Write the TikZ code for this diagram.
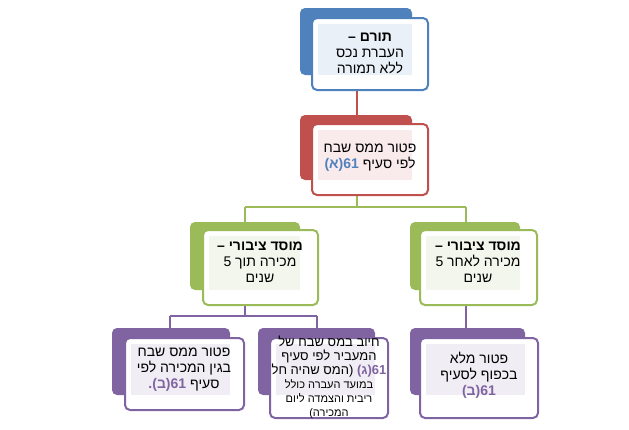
\documentclass[tikz,border=0pt]{standalone}
\usepackage{fontspec}
\setmainfont{Liberation Sans}[Script=Hebrew]
\TeXXeTstate=1
\newcommand{\R}[1]{\beginR #1\endR}
\newcommand{\Lt}[1]{\beginL #1\endL}
\definecolor{cb}{HTML}{4F81BD}
\definecolor{cr}{HTML}{C0504D}
\definecolor{cg}{HTML}{9BBB59}
\definecolor{cp}{HTML}{8064A2}
\definecolor{tb}{HTML}{EAF0F8}
\definecolor{tr}{HTML}{F9EBEB}
\definecolor{tg}{HTML}{F2F6EC}
\definecolor{tp}{HTML}{F0EDF4}
\definecolor{numb}{HTML}{4F81BD}
\definecolor{nump}{HTML}{8064A2}
\begin{document}
\begin{tikzpicture}[x=1pt,y=-1pt,
  back/.style={rounded corners=5pt},
  front/.style={rounded corners=5pt,line width=2pt,draw=#1},
  txt/.style={align=center,font=\fontsize{14}{16}\selectfont,inner sep=0pt},
  small/.style={align=center,font=\fontsize{11}{12}\selectfont,inner sep=0pt},
  conn/.style={line width=2.5pt}]
\useasboundingbox (0,0) rectangle (629,429);
% connectors
\draw[conn,cr] (357,90) -- (357,124);
\draw[conn,cg] (357,195) -- (357,207) (245,207) -- (466,207) (245,207) -- (245,230) (466,207) -- (466,230);
\draw[conn,cp] (245,305) -- (245,316) (170,316) -- (317,316) (170,316) -- (170,338) (317,316) -- (317,338) (466,305) -- (466,338);
% top
\fill[back,cb] (300,8) rectangle (412,75);
\draw[front=cb,fill=white] (312,18) rectangle (428,90);
\fill[tb] (318,24) rectangle (412,75);
\node[txt] (top) at (370,53) {\textbf{\R{תורם –}}\\\R{העברת נכס}\\\R{ללא תמורה}};
% red
\fill[back,cr] (300,115) rectangle (412,180);
\draw[front=cr,fill=white] (312,124) rectangle (428,195);
\fill[tr] (318,130) rectangle (412,180);
\node[txt] (mid) at (370,158) {\R{פטור ממס שבח}\\\R{לפי סעיף \Lt{\textbf{\textcolor{numb}{61(א)}}}}};
% green
\fill[back,cg] (190,222) rectangle (300,290);
\draw[front=cg,fill=white] (203,230) rectangle (318,305);
\fill[tg] (209,236) rectangle (300,290);
\node[txt] (gl) at (260,262) {\textbf{\R{מוסד ציבורי –}}\\\R{מכירה תוך \Lt{5}}\\\R{שנים}};
\fill[back,cg] (410,222) rectangle (520,290);
\draw[front=cg,fill=white] (420,230) rectangle (537,305);
\fill[tg] (426,236) rectangle (520,290);
\node[txt] (gr) at (478,262) {\textbf{\R{מוסד ציבורי –}}\\\R{מכירה לאחר \Lt{5}}\\\R{שנים}};
% purple
\fill[back,cp] (112,328) rectangle (230,395);
\draw[front=cp,fill=white] (125,338) rectangle (244,410);
\fill[tp] (131,344) rectangle (230,395);
\node[txt] (pl) at (184,370) {\R{פטור ממס שבח}\\\R{בגין המכירה לפי}\\\R{סעיף \Lt{\textbf{\textcolor{nump}{61(ב).}}}}};
\fill[back,cp] (258,328) rectangle (375,395);
\draw[front=cp,fill=white] (270,338) rectangle (388,418);
\fill[tp] (276,344) rectangle (375,395);
\node[txt,font=\fontsize{13}{14}\selectfont] (pm) at (329,377) {\R{חיוב במס שבח של}\\\R{המעביר לפי סעיף}\\{\fontsize{11}{12}\selectfont\R{\Lt{\fontsize{13}{14}\selectfont\textbf{\textcolor{nump}{61(ג)}}} (המס שהיה חל}}\\{\fontsize{11}{12}\selectfont\R{במועד העברה כולל}}\\{\fontsize{11}{12}\selectfont\R{ריבית והצמדה ליום}}\\{\fontsize{11}{12}\selectfont\R{המכירה)}}};
\fill[back,cp] (410,328) rectangle (525,395);
\draw[front=cp,fill=white] (420,338) rectangle (538,418);
\fill[tp] (426,344) rectangle (525,395);
\node[txt] (pr) at (479,375) {\R{פטור מלא}\\\R{בכפוף לסעיף}\\\Lt{\textbf{\textcolor{nump}{61(ב)}}}};
\end{tikzpicture}
\end{document}
